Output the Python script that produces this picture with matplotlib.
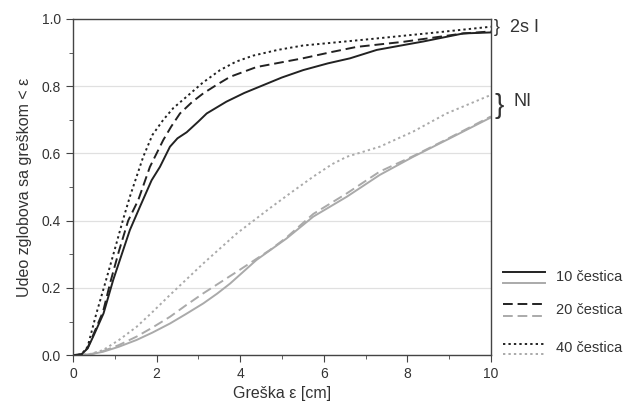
import matplotlib
matplotlib.use("Agg")
import matplotlib.pyplot as plt
from matplotlib.lines import Line2D
from matplotlib.ticker import MultipleLocator

plt.rcParams["font.family"] = ["Liberation Sans", "DejaVu Sans"]

# --- data (error eps [cm] -> fraction of joints) ---
x_2s_10 = [0, 0.2, 0.35, 0.5, 0.73, 0.96, 1.2, 1.36, 1.6, 1.88, 2.08, 2.32, 2.5, 2.72, 3.0, 3.2, 3.67, 4.1, 4.55, 5.0, 5.51, 6.1, 6.63, 7.27, 7.8, 8.38, 9.34, 10]
y_2s_10 = [0, 0.002, 0.02, 0.06, 0.124, 0.223, 0.3125, 0.372, 0.441, 0.52, 0.56, 0.62, 0.645, 0.663, 0.695, 0.719, 0.754, 0.78, 0.803, 0.826, 0.848, 0.868, 0.883, 0.908, 0.92, 0.933, 0.957, 0.96]

x_2s_20 = [0, 0.2, 0.35, 0.5, 0.72, 0.9, 1.1, 1.32, 1.56, 1.84, 2.16, 2.35, 2.56, 2.85, 3.12, 3.45, 3.76, 4.39, 5.5, 6.2, 6.79, 7.9, 9.34, 10]
y_2s_20 = [0, 0.002, 0.022, 0.065, 0.13, 0.22, 0.31, 0.40, 0.461, 0.56, 0.64, 0.68, 0.719, 0.753, 0.779, 0.805, 0.828, 0.857, 0.883, 0.902, 0.917, 0.932, 0.957, 0.963]

x_2s_40 = [0, 0.2, 0.35, 0.55, 0.79, 1.0, 1.19, 1.36, 1.68, 1.9, 2.16, 2.4, 2.72, 3.1, 3.52, 3.9, 4.31, 4.9, 5.5, 7.1, 8.7, 10]
y_2s_40 = [0, 0.002, 0.025, 0.12, 0.223, 0.315, 0.40, 0.471, 0.59, 0.655, 0.70, 0.735, 0.769, 0.81, 0.848, 0.873, 0.891, 0.908, 0.921, 0.94, 0.96, 0.977]

x_ni_10 = [0, 0.4, 0.72, 1.1, 1.52, 1.9, 2.32, 2.7, 3.12, 3.45, 3.76, 4.39, 5.11, 5.75, 6.55, 7.34, 8.14, 8.94, 10]
y_ni_10 = [0, 0.002, 0.01, 0.025, 0.045, 0.067, 0.094, 0.122, 0.154, 0.183, 0.213, 0.283, 0.347, 0.412, 0.471, 0.536, 0.59, 0.64, 0.707]

x_ni_20 = [0, 0.4, 0.72, 1.1, 1.52, 1.9, 2.32, 2.7, 3.12, 3.92, 4.71, 5.11, 5.75, 6.55, 7.34, 8.14, 8.94, 10]
y_ni_20 = [0, 0.002, 0.012, 0.03, 0.055, 0.082, 0.114, 0.148, 0.184, 0.248, 0.3125, 0.35, 0.42, 0.481, 0.546, 0.592, 0.642, 0.71]

x_ni_40 = [0, 0.4, 0.72, 1.1, 1.52, 1.9, 2.32, 3.12, 3.92, 4.71, 5.19, 5.75, 6.2, 6.55, 7.34, 8.14, 8.94, 10]
y_ni_40 = [0, 0.003, 0.015, 0.045, 0.084, 0.128, 0.179, 0.273, 0.362, 0.437, 0.481, 0.531, 0.568, 0.59, 0.62, 0.665, 0.719, 0.774]

legend_labels = ["10 čestica", "20 čestica", "40 čestica"]

DARK = "#222222"
GREY = "#aaaaaa"
styles = ["-", (0, (5, 2.5)), (0, (1.2, 1.6))]
LW = 1.4

fig = plt.figure(figsize=(6.35, 4.04), dpi=100)
ax = fig.add_axes([0.115, 0.121, 0.658, 0.832])

ax.plot(x_ni_10, y_ni_10, color=GREY, lw=LW, ls=styles[0])
ax.plot(x_ni_20, y_ni_20, color=GREY, lw=LW, ls=styles[1])
ax.plot(x_ni_40, y_ni_40, color=GREY, lw=LW, ls=styles[2])
ax.plot(x_2s_10, y_2s_10, color=DARK, lw=LW, ls=styles[0])
ax.plot(x_2s_20, y_2s_20, color=DARK, lw=LW, ls=styles[1])
ax.plot(x_2s_40, y_2s_40, color=DARK, lw=LW, ls=styles[2])

ax.set_xlim(0, 10)
ax.set_ylim(0, 1.0)
ax.xaxis.set_major_locator(MultipleLocator(2))
ax.xaxis.set_minor_locator(MultipleLocator(1))
ax.yaxis.set_major_locator(MultipleLocator(0.2))
ax.yaxis.set_minor_locator(MultipleLocator(0.1))
ax.yaxis.set_major_formatter(plt.FuncFormatter(lambda v, p: f"{v:.1f}"))
ax.grid(axis="y", which="major", color="#e0e0e0", lw=0.9)
ax.set_axisbelow(True)
for s in ax.spines.values():
    s.set_color("#444444")
    s.set_linewidth(1.0)
ax.tick_params(which="both", direction="out", color="#444444", labelsize=10, labelcolor="#333333")
ax.tick_params(which="major", length=5)
ax.tick_params(which="minor", length=3)
ax.set_xlabel("Greška ε [cm]", fontsize=11.5, color="#333333", labelpad=4)
ax.set_ylabel("Udeo zglobova sa greškom < ε", fontsize=11.5, color="#333333", labelpad=7)

# group labels at the right edge
fig.text(0.778, 0.932, "}", fontsize=13, color="#333333", va="center", ha="left")
fig.text(0.803, 0.932, "2s I", fontsize=13, color="#333333", va="center", ha="left")
fig.text(0.779, 0.737, "}", fontsize=20, color="#333333", va="center", ha="left")
fig.text(0.808, 0.748, "NI", fontsize=13, color="#333333", va="center", ha="left")

# legend: black over grey sample for each particle count
rows = [(271.5, 282.5, 277), (303.5, 315.5, 310.5), (343.5, 354, 348)]
for (yb, yg, yt), ls, lab in zip(rows, styles, legend_labels):
    for yy, c in ((yb, DARK), (yg, GREY)):
        fig.add_artist(Line2D([503 / 635, 545 / 635], [1 - yy / 404, 1 - yy / 404],
                              color=c, lw=LW, ls=ls, transform=fig.transFigure))
    fig.text(556 / 635, 1 - yt / 404, lab, fontsize=10.5, color="#333333", va="center", ha="left")

fig.savefig("out.png", dpi=100)
